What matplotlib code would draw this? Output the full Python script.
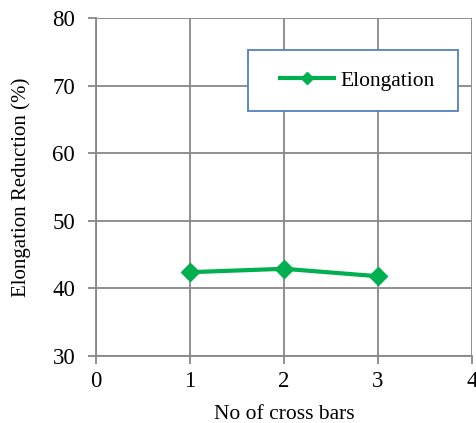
import matplotlib
matplotlib.use("Agg")
import matplotlib.pyplot as plt
from matplotlib.patches import Rectangle

# number of cross bars vs elongation reduction
cross_bars = [1, 2, 3]
elongation = [42.4, 42.9, 41.8]

x_ticks = [0, 1, 2, 3, 4]
y_ticks = [30, 40, 50, 60, 70, 80]

GRID = "#878787"
GREEN = "#00b050"
FS = 15.5

plt.rcParams["font.family"] = ["Liberation Serif", "DejaVu Serif"]

fig = plt.figure(figsize=(4.77, 4.23), dpi=100)
ax = fig.add_axes([96 / 477, 1 - 356 / 423, (472 - 96) / 477, (356 - 18) / 423])

ax.plot(cross_bars, elongation, color=GREEN, linewidth=3, marker="D",
        markersize=9, label="Elongation", zorder=3)

ax.set_xlim(0, 4)
ax.set_ylim(30, 80)
ax.set_xticks(x_ticks)
ax.set_yticks(y_ticks)
ax.grid(True, color=GRID, linewidth=1.3)
for side in ["top", "right"]:
    ax.spines[side].set_visible(False)
for side in ["left", "bottom"]:
    ax.spines[side].set_color(GRID)
    ax.spines[side].set_linewidth(1.3)
ax.tick_params(colors=GRID, labelcolor="black", labelsize=16.5, length=6, width=1.3)
ax.tick_params(axis="x", pad=5)
ax.tick_params(axis="y", pad=9)

ax.set_xlabel("No of cross bars", fontsize=FS, labelpad=9)
ax.set_ylabel("Elongation Reduction (%)", fontsize=15, labelpad=15)

# legend box drawn separately so the padding inside it can be wider than tall
box = Rectangle((0.404, 0.725), 0.559, 0.18, transform=ax.transAxes,
                facecolor="white", edgecolor="#4f81bd", linewidth=1.3, zorder=4)
ax.add_patch(box)
leg = ax.legend(loc="center left", bbox_to_anchor=(0.49, 0.815),
                fontsize=FS, frameon=False, borderpad=0, borderaxespad=0,
                handlelength=2.5, markerscale=0.7, handletextpad=0.3)
leg.set_zorder(5)

fig.savefig("out.png", dpi=100)
